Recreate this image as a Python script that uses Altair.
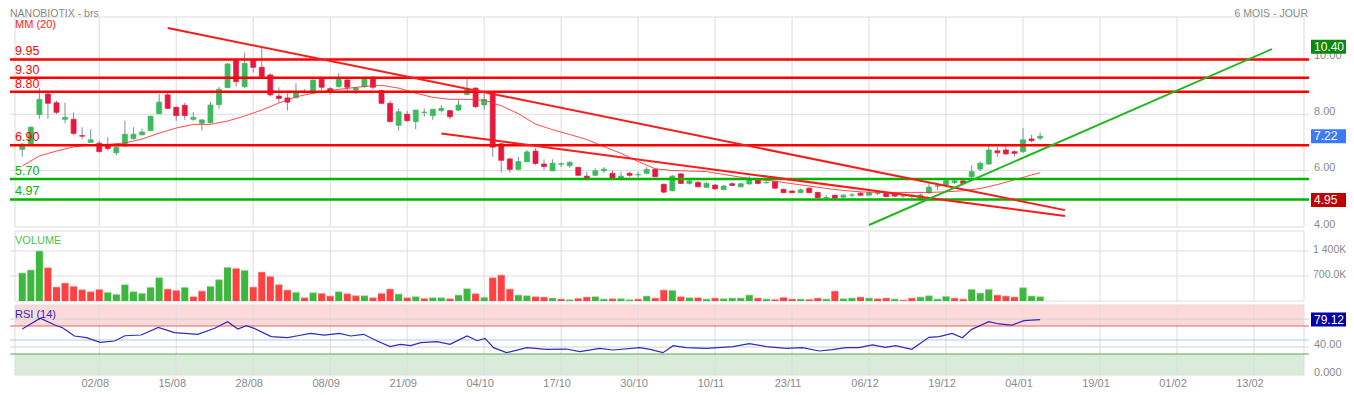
import altair as alt
import pandas as pd

# ---------------- data ----------------
date_labels = ["02/08", "15/08", "28/08", "08/09", "21/09", "04/10", "17/10", "30/10",
               "10/11", "23/11", "06/12", "19/12", "04/01", "19/01", "01/02", "13/02"]
date_idx = [9, 18, 27, 36, 45, 54, 63, 72, 81, 90, 99, 108, 117, 126, 135, 144]

opens = [6.75, 6.94, 7.99, 8.72, 8.41, 7.82, 7.82, 7.24, 7.00, 6.97,
         6.87, 6.63, 6.87, 7.13, 7.27, 7.42, 8.02, 8.69, 8.25, 8.32,
         7.82, 7.68, 7.70, 8.34, 8.95, 9.91, 8.98, 9.91, 9.67, 9.40,
         8.65, 8.58, 8.59, 8.78, 8.75, 9.25, 8.91, 8.98, 9.22, 8.86,
         8.98, 9.32, 8.84, 8.39, 7.61, 8.00, 7.74, 8.06, 7.95, 8.13,
         8.13, 8.15, 8.70, 8.93, 8.33, 8.79, 6.95, 6.41, 6.04, 6.31,
         6.69, 6.23, 5.99, 6.22, 6.17, 6.11, 5.80, 5.83, 5.99, 5.90,
         5.71, 5.90, 5.84, 5.90, 6.04, 5.51, 5.28, 5.88, 5.54, 5.58,
         5.40, 5.48, 5.32, 5.53, 5.42, 5.52, 5.66, 5.56, 5.60, 5.33,
         5.27, 5.21, 5.37, 5.22, 5.02, 5.12, 5.05, 5.12, 5.19, 5.12,
         5.18, 5.19, 5.16, 5.09, 5.08, 5.00, 5.20, 5.44, 5.48, 5.57,
         5.63, 5.78, 6.05, 6.23, 6.70, 6.73, 6.67, 6.67, 7.12, 7.15]
highs = [6.97, 7.57, 8.93, 8.77, 8.48, 8.41, 8.06, 7.54, 7.47, 7.06,
         7.18, 6.86, 7.77, 7.54, 7.49, 7.95, 8.72, 8.77, 8.28, 8.41,
         8.08, 7.82, 8.45, 8.98, 9.82, 9.95, 10.19, 9.95, 10.41, 9.46,
         8.96, 8.75, 9.10, 8.89, 9.24, 9.28, 8.96, 9.46, 9.25, 8.96,
         9.32, 9.36, 8.88, 8.48, 8.21, 8.13, 8.15, 8.21, 8.18, 8.33,
         8.16, 8.51, 9.28, 8.96, 8.80, 8.82, 6.98, 6.46, 6.49, 6.73,
         6.79, 6.40, 6.40, 6.28, 6.33, 6.14, 5.96, 6.08, 6.12, 6.02,
         5.96, 5.95, 5.96, 6.12, 6.06, 5.53, 5.84, 5.90, 5.66, 5.62,
         5.58, 5.52, 5.47, 5.58, 5.56, 5.79, 5.70, 5.62, 5.62, 5.35,
         5.29, 5.36, 5.40, 5.24, 5.12, 5.14, 5.16, 5.20, 5.24, 5.25,
         5.22, 5.22, 5.20, 5.14, 5.15, 5.18, 5.55, 5.55, 5.73, 5.68,
         5.66, 6.19, 6.31, 6.91, 6.85, 6.87, 6.72, 7.50, 7.27, 7.35]
lows = [6.49, 6.90, 7.84, 7.84, 8.01, 7.68, 7.26, 7.11, 6.99, 6.64,
        6.70, 6.55, 6.84, 7.10, 7.24, 7.40, 8.00, 8.19, 7.77, 7.80,
        7.77, 7.42, 7.67, 8.20, 8.92, 8.98, 8.93, 9.49, 9.30, 8.63,
        8.41, 8.13, 8.56, 8.75, 8.72, 8.86, 8.69, 8.95, 8.77, 8.71,
        8.95, 8.90, 8.36, 7.70, 7.42, 7.74, 7.47, 7.91, 7.80, 8.06,
        7.82, 8.12, 8.68, 8.22, 8.15, 6.49, 5.92, 5.92, 6.00, 6.30,
        6.20, 6.02, 5.97, 6.12, 6.10, 5.80, 5.64, 5.80, 5.90, 5.70,
        5.64, 5.78, 5.75, 5.86, 5.76, 5.18, 5.26, 5.52, 5.50, 5.40,
        5.38, 5.30, 5.30, 5.45, 5.40, 5.50, 5.50, 5.54, 5.35, 5.19,
        5.19, 5.19, 5.19, 5.01, 4.99, 5.00, 5.03, 5.06, 5.10, 5.10,
        5.12, 5.05, 5.05, 5.04, 5.02, 4.95, 5.18, 5.30, 5.46, 5.52,
        5.50, 5.74, 5.98, 6.20, 6.49, 6.55, 6.49, 6.62, 7.00, 7.08]
closes = [6.94, 7.54, 8.53, 8.39, 8.07, 7.89, 7.32, 7.22, 7.09, 6.67,
          6.78, 6.83, 7.29, 7.29, 7.37, 7.93, 8.43, 8.21, 7.95, 7.95,
          7.89, 7.80, 8.33, 8.89, 9.79, 9.16, 9.81, 9.67, 9.34, 8.69,
          8.56, 8.43, 8.80, 8.80, 9.22, 8.96, 8.80, 9.28, 8.96, 8.94,
          9.28, 8.96, 8.39, 7.74, 8.09, 7.77, 8.15, 8.08, 8.18, 8.21,
          7.91, 8.33, 8.89, 8.27, 8.53, 6.83, 6.36, 6.04, 6.32, 6.66,
          6.25, 6.14, 6.26, 6.24, 6.29, 5.83, 5.72, 5.99, 6.05, 5.72,
          5.80, 5.83, 5.86, 6.04, 5.78, 5.23, 5.80, 5.54, 5.63, 5.42,
          5.54, 5.35, 5.45, 5.47, 5.53, 5.70, 5.54, 5.58, 5.37, 5.21,
          5.21, 5.31, 5.21, 5.03, 5.04, 5.02, 5.12, 5.13, 5.12, 5.21,
          5.19, 5.07, 5.09, 5.10, 5.12, 5.13, 5.41, 5.46, 5.64, 5.63,
          5.54, 5.96, 6.26, 6.73, 6.63, 6.59, 6.61, 7.09, 7.06, 7.22]

volumes_k = [784, 868, 1400, 933, 392, 504, 411, 317, 261, 327,
             243, 187, 457, 261, 215, 383, 653, 336, 299, 383,
             121, 280, 411, 597, 943, 915, 859, 392, 812, 691,
             457, 308, 243, 93, 233, 215, 140, 261, 205, 149,
             149, 93, 215, 336, 196, 93, 121, 75, 93, 93,
             65, 168, 345, 205, 103, 653, 728, 336, 168, 149,
             121, 112, 84, 56, 37, 75, 112, 121, 56, 65,
             65, 37, 56, 140, 84, 308, 299, 121, 93, 93,
             56, 84, 65, 84, 84, 168, 84, 56, 47, 103,
             56, 56, 47, 84, 56, 280, 65, 84, 112, 84,
             65, 84, 56, 28, 84, 112, 149, 56, 131, 84,
             56, 327, 224, 327, 168, 140, 112, 373, 140, 121]
vol_dir = list("GGGRRRRRRR" "GGGGGGGRRG" "RRGGGRGRRR" "RRGRGRRGRR"
               "GRRRGRGRGG" "RGGRGRRRGG" "RRGRGRRGGR" "GGRGRRGRGR"
               "GRGGGGRGRR" "RGRRGRGGRG" "RRGRRGGGGR" "RGGGRRRGGG")

ma_idx = [0, 2, 4, 6, 8, 10, 12, 14, 16, 18, 20, 22, 24, 26, 28, 30, 32, 34, 36, 38,
          40, 42, 44, 46, 48, 50, 52, 54, 56, 58, 60, 62, 64, 66, 68, 70, 72, 74, 76, 78,
          80, 82, 84, 86, 88, 90, 92, 94, 96, 98, 100, 102, 104, 106, 108, 110, 112, 114,
          116, 118, 119]
ma_val = [6.16, 6.52, 6.69, 6.84, 6.91, 6.93, 6.98, 7.12, 7.33, 7.51, 7.64, 7.64, 7.76,
          7.94, 8.15, 8.40, 8.62, 8.75, 8.85, 8.92, 8.99, 9.03, 8.93, 8.75, 8.60, 8.53,
          8.53, 8.50, 8.30, 8.02, 7.65, 7.45, 7.28, 7.10, 6.85, 6.61, 6.32, 6.06, 6.00,
          5.98, 5.96, 5.86, 5.76, 5.68, 5.62, 5.53, 5.45, 5.36, 5.29, 5.24, 5.22, 5.22,
          5.22, 5.22, 5.24, 5.28, 5.36, 5.50, 5.67, 5.84, 5.92]

rsi_idx = [0, 2.1, 3.8, 4.7, 6.1, 7.5, 9.1, 10.8, 12, 13.9, 15.9, 17.8, 20.5, 22.5, 24,
           25.2, 26.2, 27.1, 29.1, 31, 32.2, 33.7, 35.3, 37.1, 38.4, 39.9, 41.5, 43, 44.2,
           45.4, 46.6, 48.5, 50, 52, 53.2, 54.1, 55.1, 56.6, 59, 61.3, 63.6, 65.2, 67.5,
           69.1, 72.2, 73.4, 74.9, 76.1, 77.6, 80, 83.1, 85, 87, 89.3, 91.2, 93.2, 94.7,
           96.3, 97.8, 99.4, 100.9, 102.1, 104, 106, 107.2, 108.7, 109.9, 111, 113, 114.2,
           115.7, 117.1, 119]
rsi_val = [65.7, 81, 71.4, 67.6, 55.7, 53.3, 46.7, 48.6, 56.1, 57.1, 68.1, 60.5, 58.1,
           66.7, 76.2, 65.7, 70.5, 66.7, 54.8, 53.3, 56.1, 59.5, 57.1, 59.5, 55.7, 58.1,
           48.6, 40.5, 43.8, 41.9, 46.2, 47.6, 43.8, 55.7, 49, 52.4, 39.1, 31.9, 39.1,
           36.7, 37.1, 33.3, 38.1, 35.7, 39.1, 36.7, 31.9, 41.9, 39.1, 38.1, 40.5, 44.8,
           40.5, 38.1, 39.1, 34.3, 36.2, 39.1, 39.1, 42.9, 39.5, 41.9, 36.7, 53.8, 54.8,
           59.5, 53.3, 65.2, 76.2, 72.9, 71.4, 77.6, 79.12]

levels = [9.95, 9.30, 8.80, 6.90, 5.70, 4.97]
level_labels = ["9.95", "9.30", "8.80", "6.90", "5.70", "4.97"]
level_kind = ["res", "res", "res", "res", "sup", "sup"]

trend_x0 = [17.0, 49.0, 99.0]
trend_y0 = [11.07, 7.32, 4.06]
trend_x1 = [121.9, 121.9, 146.1]
trend_y1 = [4.59, 4.38, 10.32]
trend_kind = ["down", "down", "up"]

price_ticks = [10, 8, 6, 4]
price_tick_labels = ["10.00", "8.00", "6.00", "4.00"]
vol_ticks = [1400000, 700000]
vol_tick_labels = ["1 400K", "700.0K"]
rsi_grid = [80, 40]
rsi_axis_vals = [40, 0]
rsi_axis_labels = ["40.00", "0.000"]

price_boxes = [10.40, 7.22, 4.95]
price_box_labels = ["10.40", "7.22", "4.95"]
price_box_kind = ["hi", "last", "lo"]
rsi_box = [79.12]
rsi_box_label = ["79.12"]

# ---------------- styling ----------------
FONT = "Liberation Sans"
GRID = "#dddddd"
LBL = "#8a8a8a"
UP = "#3cba5e"
DOWN = "#e5193f"
WICK = "#7f8da3"
X_MIN, X_MAX = -0.85, 149.85
P_MIN, P_MAX = 3.99, 11.46
V_MAX = 1960000
BOX_X0, BOX_X1, LAB_X = 1301, 1336, 1304

xs = alt.Scale(domain=[X_MIN, X_MAX], nice=False, zero=False)
ps = alt.Scale(domain=[P_MIN, P_MAX], range=[210, 0], nice=False, zero=False)
vs = alt.Scale(domain=[0, V_MAX], range=[284, 214], nice=False, zero=False)
rs = alt.Scale(domain=[0, 100], range=[358, 288], nice=False, zero=False)

one = pd.DataFrame({"a": [0]})
grid_df = pd.DataFrame({"idx": date_idx, "label": date_labels})

candles = pd.DataFrame({"i": list(range(len(opens))), "o": opens, "h": highs,
                        "l": lows, "c": closes})
candles["col"] = [UP if c >= o else DOWN for o, c in zip(opens, closes)]
vol_df = pd.DataFrame({"i": list(range(len(volumes_k))),
                       "v": [k * 1000 for k in volumes_k],
                       "col": ["#3cb93c" if d == "G" else "#ff4141" for d in vol_dir],
                       "cap": ["#a9dfa9" if d == "G" else "#ffb0b0" for d in vol_dir]})
ma_df = pd.DataFrame({"i": ma_idx, "m": ma_val})
rsi_df = pd.DataFrame({"i": rsi_idx, "r": rsi_val})
lev_df = pd.DataFrame({"v": levels, "t": level_labels,
                       "col": ["#ff0000" if k == "res" else "#00b400" for k in level_kind]})
tr_df = pd.DataFrame({"x0": trend_x0, "y0": trend_y0, "x1": trend_x1, "y1": trend_y1,
                      "col": ["#ff1a1a" if k == "down" else "#1fb81f" for k in trend_kind]})
pbox_df = pd.DataFrame({"v": price_boxes, "t": price_box_labels,
                        "col": [{"hi": "#0a8a0a", "last": "#3d7bf5", "lo": "#c00000"}[k]
                                for k in price_box_kind]})


def X(f):
    return alt.X(f, type="quantitative", scale=xs, axis=None)


def Y(f, s):
    return alt.Y(f, type="quantitative", scale=s, axis=None)


def frame(s, top, bottom, fill="transparent", stroke=GRID):
    return alt.Chart(one).mark_rect(fill=fill, stroke=stroke, strokeWidth=1).encode(
        x=alt.XDatum(X_MIN, type="quantitative", scale=xs, axis=None),
        x2=alt.X2Datum(X_MAX),
        y=alt.YDatum(top, type="quantitative", scale=s, axis=None),
        y2=alt.Y2Datum(bottom))


def band(s, top, bottom, fill):
    return alt.Chart(one).mark_rect(fill=fill, strokeWidth=0).encode(
        x=alt.XDatum(X_MIN, type="quantitative", scale=xs, axis=None),
        x2=alt.X2Datum(X_MAX),
        y=alt.YDatum(top, type="quantitative", scale=s, axis=None),
        y2=alt.Y2Datum(bottom))


def vgrid(s, top, bottom):
    return alt.Chart(grid_df).mark_rule(color=GRID, strokeWidth=1).encode(
        x=X("idx"),
        y=alt.YDatum(top, type="quantitative", scale=s, axis=None),
        y2=alt.Y2Datum(bottom))


def hgrid(vals, s, color=GRID):
    return alt.Chart(pd.DataFrame({"v": vals})).mark_rule(color=color, strokeWidth=1).encode(
        y=Y("v", s))


def right_labels(vals, labels, s, dy=-2, size=11, x=LAB_X):
    return alt.Chart(pd.DataFrame({"v": vals, "t": labels})).mark_text(
        align="left", baseline="middle", font=FONT, fontSize=size, color=LBL, dy=dy).encode(
        x=alt.value(x), y=Y("v", s), text="t:N")


def note(txt, x, y, color, size=11, align="left", baseline="alphabetic"):
    return alt.Chart(one).mark_text(text=txt, align=align, baseline=baseline,
                                    font=FONT, fontSize=size, color=color).encode(
        x=alt.value(x), y=alt.value(y))


# ---------------- price panel ----------------
price = alt.layer(
    vgrid(ps, P_MAX, P_MIN),
    hgrid([6, 8, 10], ps),
    frame(ps, P_MAX, P_MIN),
    alt.Chart(candles).mark_rule(color=WICK, strokeWidth=1).encode(
        x=X("i"), y=Y("l", ps), y2="h:Q"),
    alt.Chart(candles).mark_bar(size=5, strokeWidth=0.7).encode(
        x=X("i"), y=Y("o", ps), y2="c:Q",
        color=alt.Color("col:N", scale=None), stroke=alt.Stroke("col:N", scale=None)),
    alt.Chart(ma_df).mark_line(color="#ff2a2a", strokeWidth=1, opacity=0.85).encode(
        x=X("i"), y=Y("m", ps)),
    alt.Chart(lev_df).mark_rule(strokeWidth=2.5).encode(
        y=Y("v", ps), color=alt.Color("col:N", scale=None)),
    alt.Chart(lev_df).mark_text(align="left", baseline="alphabetic", font=FONT,
                                fontSize=12.5, dy=-4).encode(
        x=alt.value(5), y=Y("v", ps), text="t:N", color=alt.Color("col:N", scale=None)),
    alt.Chart(tr_df).mark_rule(strokeWidth=2).encode(
        x=X("x0"), y=Y("y0", ps), x2="x1:Q", y2="y1:Q",
        color=alt.Color("col:N", scale=None)),
    note("MM (20)", 5, 11, "#ff1a1a", 11),
    note("NANOBIOTIX - brs", 0, -8, LBL, 10.5, baseline="top"),
    note("6 MOIS - JOUR", 1298, -8, LBL, 10.5, "right", baseline="top"),
    right_labels(price_ticks, price_tick_labels, ps),
    alt.Chart(pbox_df).mark_rect(yOffset=-7, y2Offset=7).encode(
        x=alt.value(BOX_X0), x2=alt.value(BOX_X1), y=Y("v", ps), y2="v:Q",
        color=alt.Color("col:N", scale=None)),
    alt.Chart(pbox_df).mark_text(align="left", baseline="middle", font=FONT, fontSize=12,
                                 color="white").encode(
        x=alt.value(LAB_X), y=Y("v", ps), text="t:N"),
)

# ---------------- volume panel ----------------
volume = alt.layer(
    vgrid(vs, V_MAX, 0),
    hgrid([700000, 1400000], vs),
    frame(vs, V_MAX, 0),
    alt.Chart(vol_df).mark_bar(size=7).encode(
        x=X("i"), y=Y("v", vs), y2=alt.Y2Datum(0), color=alt.Color("col:N", scale=None)),
    alt.Chart(vol_df).mark_tick(orient="horizontal", thickness=1, size=7).encode(
        x=X("i"), y=Y("v", vs), color=alt.Color("cap:N", scale=None)),
    note("VOLUME", 5, 227, "#4cbf4c", 11),
    right_labels(vol_ticks, vol_tick_labels, vs, dy=-1, size=10.5, x=1303),
)

# ---------------- RSI panel ----------------
rsi = alt.layer(
    band(rs, 100, 70, "#fdd9d9"),
    band(rs, 30, 0, "#d9ebd9"),
    vgrid(rs, 100, 0),
    hgrid(rsi_grid, rs, "#d2d2d2"),
    frame(rs, 100, 0),
    hgrid([70], rs, "#e86060"),
    hgrid([50], rs, "#a6cdf2"),
    hgrid([30], rs, "#5aa65a"),
    alt.Chart(rsi_df).mark_line(color="#2b2bc0", strokeWidth=1.2).encode(
        x=X("i"), y=Y("r", rs)),
    note("RSI (14)", 5, 301, "#2b2bc0", 11),
    right_labels(rsi_axis_vals, rsi_axis_labels, rs, dy=-2),
    alt.Chart(pd.DataFrame({"v": rsi_box, "t": rsi_box_label})).mark_rect(
        yOffset=-7, y2Offset=7, color="#0000a8").encode(
        x=alt.value(BOX_X0), x2=alt.value(BOX_X1), y=Y("v", rs), y2="v:Q"),
    alt.Chart(pd.DataFrame({"v": rsi_box, "t": rsi_box_label})).mark_text(
        align="left", baseline="middle", font=FONT, fontSize=12, color="white").encode(
        x=alt.value(LAB_X), y=Y("v", rs), text="t:N"),
    alt.Chart(grid_df).mark_text(baseline="middle", font=FONT, fontSize=11, color=LBL,
                                 dx=-4).encode(
        x=X("idx"), y=alt.value(367), text="label:N"),
)

chart = alt.layer(price, volume, rsi).resolve_scale(y="independent").properties(
    width=1299, height=358,
    autosize=alt.AutoSizeParams(type="none"),
    padding={"left": 2, "top": 9, "right": 37, "bottom": 20},
).configure_view(stroke=None)

chart.save("out.html", embed_options={"renderer": "svg", "actions": False})
